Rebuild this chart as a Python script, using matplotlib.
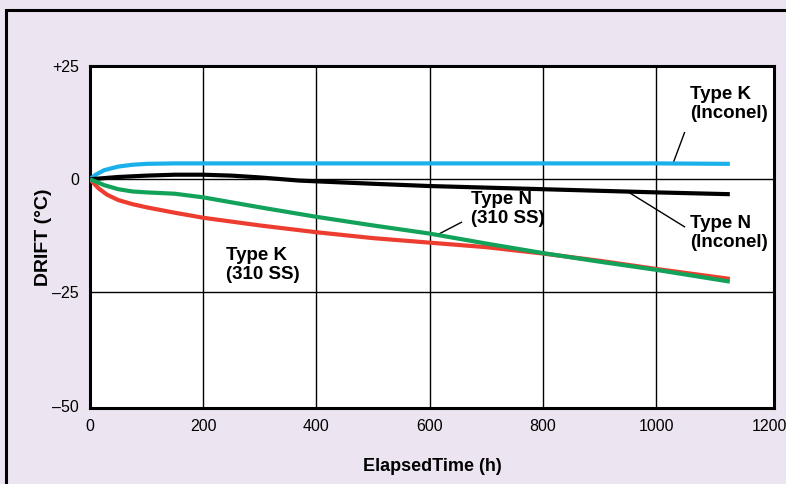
import matplotlib
matplotlib.use("Agg")
import matplotlib.pyplot as plt
from matplotlib.patches import Rectangle

plt.rcParams['font.family'] = ['Liberation Sans', 'DejaVu Sans']

# Data
k_inconel_h = [0, 10, 25, 50, 75, 100, 150, 200, 400, 600, 800, 1000, 1130]
k_inconel_d = [0, 1.0, 2.0, 2.8, 3.2, 3.4, 3.5, 3.5, 3.5, 3.5, 3.5, 3.5, 3.4]

n_inconel_h = [0, 50, 100, 150, 200, 250, 300, 370, 500, 600, 800, 1000, 1130]
n_inconel_d = [0, 0.5, 0.8, 1.0, 1.0, 0.8, 0.4, -0.3, -1.0, -1.5, -2.2, -2.9, -3.3]

n_310_h = [0, 25, 50, 75, 100, 150, 200, 300, 400, 500, 600, 700, 800, 900, 1000, 1130]
n_310_d = [0, -1.3, -2.2, -2.7, -2.9, -3.2, -4.0, -6.2, -8.3, -10.2, -12.0, -14.2, -16.3, -18.2, -20.0, -22.6]

k_310_h = [0, 15, 30, 50, 75, 100, 150, 200, 300, 400, 500, 600, 700, 800, 900, 1000, 1130]
k_310_d = [0, -2.0, -3.4, -4.6, -5.5, -6.2, -7.4, -8.5, -10.2, -11.7, -13.0, -14.0, -15.0, -16.4, -18.0, -19.8, -22.0]

xticks = [0, 200, 400, 600, 800, 1000, 1200]
yticks = [-50, -25, 0, 25]
ytick_labels = ['\u201350', '\u201325', '0', '+25']

bg = '#ece5f1'
fig = plt.figure(figsize=(7.86, 4.84), dpi=100, facecolor=bg)
fig.patches.append(Rectangle((6.5/786, -0.5), 2.0, 1.5 - 9.5/484, transform=fig.transFigure,
                             facecolor='none', edgecolor='black', linewidth=2.2, zorder=0))
ax = fig.add_axes([90/786, 1 - 408/484, (774-90)/786, (408-66)/484])
ax.set_facecolor('white')

ax.set_xlim(0, 1208)
ax.set_ylim(-50.5, 24.5)
ax.set_xticks(xticks)
ax.set_xticklabels([str(v) for v in xticks], fontsize=11.5)
ax.set_yticks(yticks)
ax.set_yticklabels(ytick_labels, fontsize=11.5)
ax.tick_params(length=0, pad=8)

for v in [200, 400, 600, 800, 1000]:
    ax.axvline(v, color='black', lw=1.0, zorder=1)
for v in [0, -25]:
    ax.axhline(v, color='black', lw=1.0, zorder=1)

for s in ax.spines.values():
    s.set_linewidth(2.2)

ax.plot(k_inconel_h, k_inconel_d, color='#1ab0ea', lw=3, zorder=3, solid_capstyle='butt')
ax.plot(n_inconel_h, n_inconel_d, color='black', lw=3, zorder=3, solid_capstyle='butt')
ax.plot(k_310_h, k_310_d, color='#ec3d30', lw=3, zorder=3, solid_capstyle='butt')
ax.plot(n_310_h, n_310_d, color='#12a25a', lw=3, zorder=4, solid_capstyle='butt')

tk = dict(fontsize=13.5, fontweight='bold', ha='left', va='top', linespacing=1.15)
ax.text(1060, 20.6, 'Type K\n(Inconel)', **tk)
ax.text(1060, -8.0, 'Type N\n(Inconel)', **tk)
ax.text(672, -2.7, 'Type N\n(310 SS)', **tk)
ax.text(240, -14.9, 'Type K\n(310 SS)', **tk)

ax.plot([1050, 1030], [10.3, 3.6], color='black', lw=1)
ax.plot([953, 1050], [-3.0, -10.5], color='black', lw=1)
ax.plot([656, 613], [-9.5, -12.3], color='black', lw=1)

ax.set_xlabel('ElapsedTime (h)', fontsize=13, fontweight='bold', labelpad=17)
ax.set_ylabel('DRIFT (\u00b0C)', fontsize=14, fontweight='bold', labelpad=0)

fig.savefig('out.png', dpi=100, facecolor=bg)
